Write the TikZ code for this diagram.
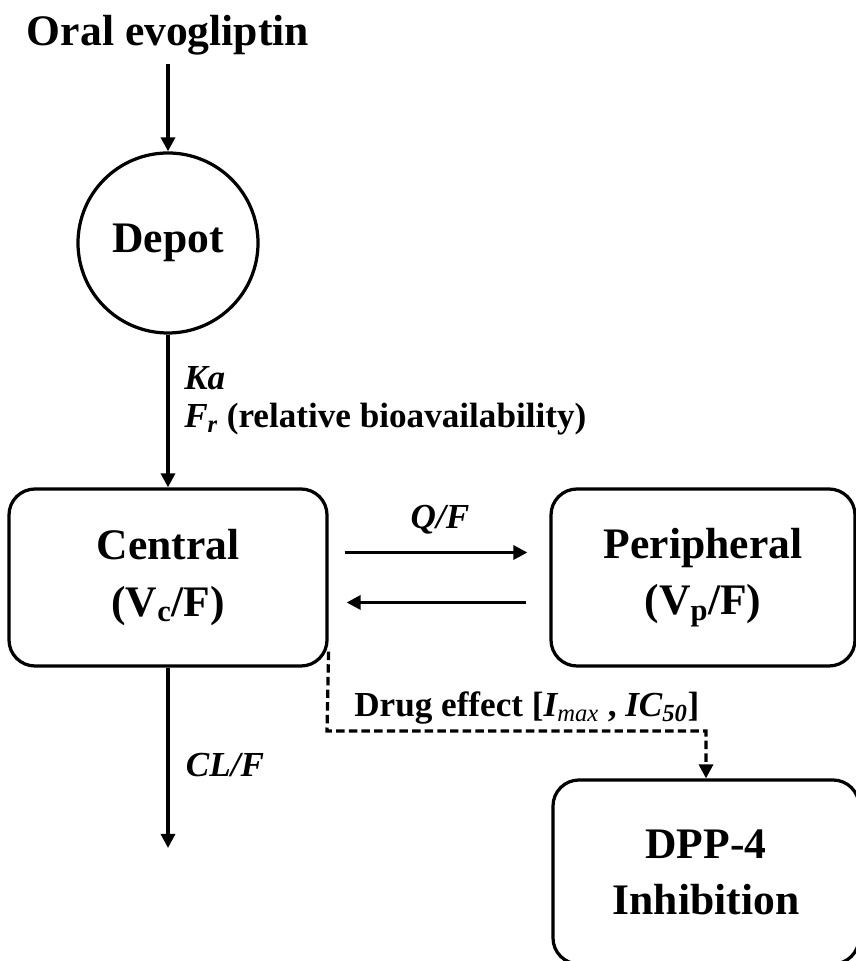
\documentclass[tikz,border=0pt]{standalone}
\usepackage{fontspec}
\setmainfont{Liberation Serif}
\usetikzlibrary{arrows.meta}

\begin{document}
\begin{tikzpicture}[
    font=\fontsize{31}{40}\selectfont\bfseries,
    line width=2.3pt,
    flow/.style={-{Triangle[length=10pt,width=10pt]}},
    compartment/.style={draw, rounded corners=0.65cm, align=center, minimum height=4.425cm},
    rate/.style={font=\fontsize{25}{27}\selectfont\bfseries}
]
\useasboundingbox (0,0) rectangle (21.4,24.025);

% dose
    \node (oral) at (4.2,23.15) {Oral evogliptin};

% compartments
    \node[draw, circle, minimum size=4.5cm, inner sep=0pt] (depot) at (4.2,17.95) {Depot};
    \node[compartment, minimum width=7.95cm] (central) at (4.2,9.5875) {Central\\(V\textsubscript{c}/F)};
    \node[compartment, minimum width=7.6cm] (peripheral) at (17.575,9.5875) {Peripheral\\(V\textsubscript{p}/F)};
    \node[compartment, minimum width=7.65cm, minimum height=4.6cm] (dpp) at (17.65,2.225) {DPP-4\\Inhibition};
    \coordinate (clear) at (4.2,2.825);
    \coordinate (bend) at (8.175,5.75);

% absorption
    \draw[flow, shorten <=2pt] (oral) -- (depot);
    \draw[flow] (depot) -- (central);
    \node[rate, anchor=west, align=left] (ka) at (4.45,14.0)
        {\textit{Ka}\\\textit{F\textsubscript{r}} (relative bioavailability)};

% distribution
    \draw[flow, shorten <=0.4cm, shorten >=0.55cm]
        ([yshift=0.625cm]central.east) -- ([yshift=0.625cm]peripheral.west);
    \draw[flow, shorten <=0.575cm, shorten >=0.45cm]
        ([yshift=-0.625cm]peripheral.west) -- ([yshift=-0.625cm]central.east);
    \node[rate] (qf) at (11.0,11.025) {\textit{Q/F}};

% elimination
    \draw[flow] (central) -- (clear);
    \node[rate] (clf) at (5.625,4.9) {\textit{CL/F}};

% drug effect
    \draw[flow, dash pattern=on 6pt off 3pt]
        ([yshift=0.4cm]central.south east) -- (bend) -| (dpp.north);
    \node[rate, anchor=west] (effect) at (8.7,6.325)
        {Drug effect [\textit{I\textsubscript{\mdseries max}} , \textit{IC\textsubscript{50}}]};

\end{tikzpicture}
\end{document}
